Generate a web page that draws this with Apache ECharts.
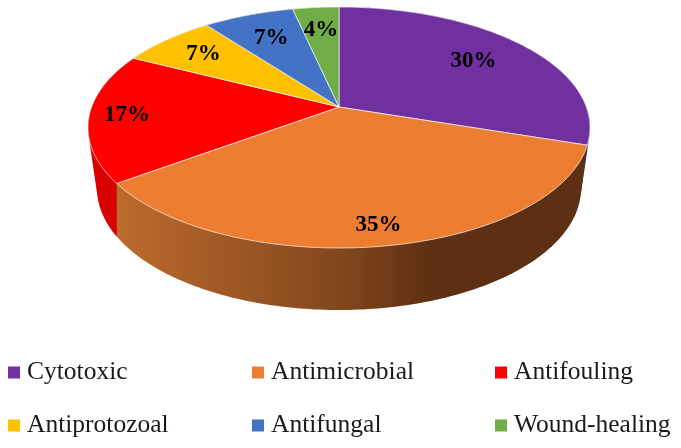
<!DOCTYPE html>
<html>
<head>
<meta charset="utf-8">
<script src="https://cdn.jsdelivr.net/npm/echarts@6/dist/echarts.min.js"></script>
<style>
  html, body { margin: 0; padding: 0; background: #fff; }
  #chart { width: 681px; height: 448px; }
</style>
</head>
<body>
<div id="chart"></div>
<script>
// data
const categories = ['Cytotoxic', 'Antimicrobial', 'Antifouling', 'Antiprotozoal', 'Antifungal', 'Wound-healing']
const values = [30, 35, 17.4, 7.2, 6.9, 3.5]

// colours
const topColors = ['#7030a0', '#ed7d31', '#ff0000', '#ffc000', '#4472c4', '#70ad47']
const sideColors = [
  '#43205f',
  new echarts.graphic.LinearGradient(116, 0, 590, 0, [
    { offset: 0, color: '#bd6b2d' },
    { offset: 0.5, color: '#7e441c' },
    { offset: 0.66, color: '#5e3013' },
    { offset: 1, color: '#5e3013' }
  ], true),
  '#d90000',
  '#997300',
  '#2f5597',
  '#548235'
]

// how far out each label sits, as a share of the radius
const labelRadius = [0.72, 0.87, 0.85, 0.77, 0.72, 0.75]

// tilted pie: a disc seen in perspective, so the centre is not the ellipse centre
const topFace = { cx: 339, cy: 127.5, rx: 251, ry: 120.5, tilt: -0.17 }
const bottomFace = { cx: 339, cy: 188.5, rx: 242, ry: 121.5, tilt: -0.25 }

const total = values.reduce((a, b) => a + b, 0)

function project(face, share, r) {
  const t = share / total * Math.PI * 2
  const x = r * Math.sin(t)
  const y = -r * Math.cos(t)
  const d = 1 + face.tilt * y
  return [
    face.cx + face.rx * x * Math.sqrt(1 - face.tilt * face.tilt) / d,
    face.cy + face.ry * (y + face.tilt) / d
  ]
}

function arc(face, from, to) {
  const steps = Math.max(2, Math.ceil((to - from) * 4))
  const pts = []
  for (let i = 0; i <= steps; i++) {
    pts.push(project(face, from + (to - from) * i / steps, 1))
  }
  return pts
}

// the two faces' outlines cross near the edge, so the wall is their hull
function hull(points) {
  const pts = points.slice().sort((a, b) => a[0] - b[0] || a[1] - b[1])
  const cross = (o, a, b) => (a[0] - o[0]) * (b[1] - o[1]) - (a[1] - o[1]) * (b[0] - o[0])
  const half = (list) => {
    const out = []
    list.forEach((p) => {
      while (out.length > 1 && cross(out[out.length - 2], out[out.length - 1], p) <= 0) out.pop()
      out.push(p)
    })
    out.pop()
    return out
  }
  return half(pts).concat(half(pts.slice().reverse()))
}

function makeRenderItem(i) {
  return function (params, api) {
    const from = api.value(0)
    const to = api.value(1)
    const topArc = arc(topFace, from, to)
    const bottomArc = arc(bottomFace, from, to)
    const labelPos = project(topFace, (from + to) / 2, labelRadius[i])
    return {
      type: 'group',
      children: [
        {
          type: 'polygon',
          z2: i === 1 ? 2 : 1,
          shape: { points: hull(topArc.concat(bottomArc)) },
          style: { fill: sideColors[i] }
        },
        {
          type: 'polygon',
          z2: 10,
          shape: { points: [project(topFace, 0, 0)].concat(topArc) },
          style: { fill: api.visual('color'), stroke: 'rgba(255,255,255,0.65)', lineWidth: 1 }
        },
        {
          type: 'text',
          z2: 20,
          x: labelPos[0],
          y: labelPos[1],
          style: {
            text: Math.round(values[i]) + '%',
            font: 'bold 23px "Liberation Serif", serif',
            fill: '#000',
            align: 'center',
            verticalAlign: 'middle'
          }
        }
      ]
    }
  }
}

let running = 0
const series = categories.map((name, i) => {
  const start = running
  running += values[i]
  return {
    name: name,
    type: 'custom',
    coordinateSystem: 'none',
    renderItem: makeRenderItem(i),
    data: [[start, running]]
  }
})

function legendColumn(left, names) {
  return {
    left: left,
    top: 358.5,
    padding: 0,
    orient: 'vertical',
    itemWidth: 12,
    itemHeight: 12,
    itemGap: 25,
    icon: 'rect',
    selectedMode: false,
    data: names,
    textStyle: {
      fontFamily: '"Liberation Serif", serif',
      fontSize: 25.5,
      lineHeight: 28,
      color: '#1a1a1a',
      padding: [0, 0, 0, 2]
    }
  }
}

const chart = echarts.init(document.getElementById('chart'))
chart.setOption({
  animation: false,
  backgroundColor: '#fff',
  color: topColors,
  legend: [
    legendColumn(8, [categories[0], categories[3]]),
    legendColumn(252, [categories[1], categories[4]]),
    legendColumn(495, [categories[2], categories[5]])
  ],
  series: series
})
</script>
</body>
</html>
